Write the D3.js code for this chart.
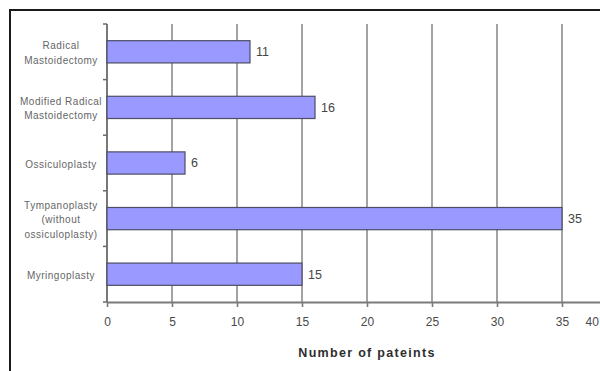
<!DOCTYPE html>
<html>
<head>
<meta charset="utf-8">
<script src="https://cdn.jsdelivr.net/npm/d3@7"></script>
<style>
  html, body { margin: 0; padding: 0; background: #fff; }
  svg { display: block; font-family: "Liberation Sans", Arial, sans-serif; }
</style>
</head>
<body>
<svg id="chart" width="600" height="371"></svg>
<script>
// Procedures (top to bottom) and number of patients for each
const categories = [
  ["Radical", "Mastoidectomy"],
  ["Modified Radical", "Mastoidectomy"],
  ["Ossiculoplasty"],
  ["Tympanoplasty", "(without", "ossiculoplasty)"],
  ["Myringoplasty"]
];
const patients = [11, 16, 6, 35, 15];
const xTicks = [0, 5, 10, 15, 20, 25, 30, 35, 40];
const xTitle = "Number of pateints";

const svg = d3.select("#chart");
const W = 600, H = 371;

const plot = { left: 107, right: 627, top: 24, bottom: 302 };

const keys = categories.map(c => c.join(" "));
const x = d3.scaleLinear().domain([0, 40]).range([plot.left, plot.right]);
const y = d3.scaleBand().domain(keys).range([plot.top, plot.bottom])
  .paddingInner(0.6).paddingOuter(0.3);

// outer chart frame
svg.append("rect")
  .attr("x", 10).attr("y", 10)
  .attr("width", W + 20).attr("height", H + 20)
  .attr("fill", "none").attr("stroke", "#1a1a1a").attr("stroke-width", 2);

// vertical gridlines
svg.append("g")
  .selectAll("line")
  .data(xTicks.filter(d => d > 0))
  .join("line")
  .attr("x1", d => x(d)).attr("x2", d => x(d))
  .attr("y1", plot.top).attr("y2", plot.bottom)
  .attr("stroke", "#8c8c8c").attr("stroke-width", 1.6);

// x axis
const xAxis = svg.append("g")
  .attr("transform", `translate(0,${plot.bottom})`)
  .call(d3.axisBottom(x).tickValues(xTicks).tickSize(5).tickPadding(10).tickSizeOuter(0));
xAxis.select(".domain").attr("stroke", "#7a7a7a").attr("stroke-width", 1.8);
xAxis.selectAll(".tick line").attr("stroke", "#7a7a7a").attr("stroke-width", 1.6);
xAxis.selectAll(".tick text")
  .attr("fill", "#4a4a4a")
  .style("font-size", "12px")
  .style("font-family", "'Liberation Sans', Arial, sans-serif");
// the last label is pulled back inside the visible frame
xAxis.selectAll(".tick text").filter(d => d === 40)
  .attr("text-anchor", "start")
  .attr("dx", -(x(40) - 585));

// y axis with ticks at category boundaries
const yAxisG = svg.append("g");
const bounds = d3.range(keys.length + 1).map(i => plot.top + i * (plot.bottom - plot.top) / keys.length);
yAxisG.append("line")
  .attr("x1", plot.left).attr("x2", plot.left)
  .attr("y1", plot.top).attr("y2", plot.bottom)
  .attr("stroke", "#6a6a6a").attr("stroke-width", 1.8);
yAxisG.selectAll("line.tk")
  .data(bounds)
  .join("line")
  .attr("class", "tk")
  .attr("x1", plot.left - 4).attr("x2", plot.left)
  .attr("y1", d => d).attr("y2", d => d)
  .attr("stroke", "#6a6a6a").attr("stroke-width", 1.5);

// category labels (wrapped, centred)
const lineH = 14.5;
const labelX = 61;
const labels = svg.append("g")
  .attr("fill", "#666")
  .style("font-size", "10px")
  .style("letter-spacing", "0.5px")
  .attr("text-anchor", "middle");
categories.forEach((lines, i) => {
  const cy = y(keys[i]) + y.bandwidth() / 2;
  const t = labels.append("text")
    .attr("x", labelX)
    .attr("y", cy - (lines.length - 1) * lineH / 2 + 1);
  lines.forEach((ln, j) => {
    t.append("tspan")
      .attr("x", labelX)
      .attr("dy", j === 0 ? "0.35em" : lineH)
      .text(ln);
  });
});

// bars
svg.append("g")
  .selectAll("rect")
  .data(patients)
  .join("rect")
  .attr("x", x(0))
  .attr("y", (d, i) => y(keys[i]))
  .attr("width", d => x(d) - x(0))
  .attr("height", y.bandwidth())
  .attr("fill", "#9999ff")
  .attr("stroke", "#4d4d66")
  .attr("stroke-width", 1.2);

// value labels
svg.append("g")
  .selectAll("text")
  .data(patients)
  .join("text")
  .attr("x", d => x(d) + 6)
  .attr("y", (d, i) => y(keys[i]) + y.bandwidth() / 2)
  .attr("dy", "0.35em")
  .attr("fill", "#454545")
  .style("font-size", "12.5px")
  .text(d => d);

// x axis title
svg.append("text")
  .attr("x", 367)
  .attr("y", 357)
  .attr("text-anchor", "middle")
  .attr("fill", "#2e2e2e")
  .style("font-size", "12.5px")
  .style("font-weight", "bold")
  .style("letter-spacing", "1.3px")
  .text(xTitle);
</script>
</body>
</html>
